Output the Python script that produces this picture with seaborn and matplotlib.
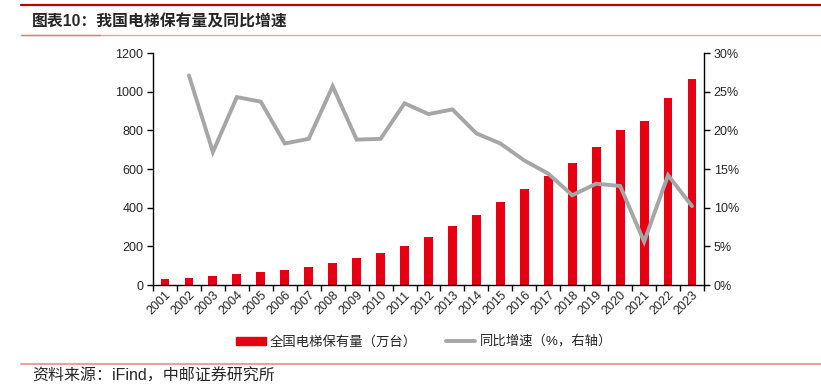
import numpy as np
import pandas as pd
import matplotlib
matplotlib.use("Agg")
import matplotlib.pyplot as plt
from matplotlib.lines import Line2D
from matplotlib.ticker import FixedLocator, PercentFormatter
import seaborn as sns

# ── data ────────────────────────────────────────────────────────────────────
years = [str(y) for y in range(2001, 2024)]
stock = [29, 36, 45, 55, 67, 78, 93, 115, 138, 166, 202, 247, 304, 364,
         428, 495, 566, 630, 715, 803, 849, 965, 1067]
growth = [np.nan, 27.1, 17.2, 24.3, 23.7, 18.3, 18.9, 25.7, 18.8, 18.9,
          23.5, 22.1, 22.7, 19.6, 18.3, 16.1, 14.4, 11.6, 13.1, 12.8,
          5.6, 14.2, 10.2]

bar_label = "全国电梯保有量（万台）"
line_label = "同比增速（%，右轴）"
title = "图表10：我国电梯保有量及同比增速"
source = "资料来源：iFind，中邮证券研究所"

RED = "#E60012"
GREY = "#A6A6A6"

sns.set_style("ticks")
plt.rcParams["font.family"] = ["Liberation Sans", "Noto Sans CJK SC", "DejaVu Sans"]
plt.rcParams["axes.unicode_minus"] = False

df = pd.DataFrame({"year": years, "stock": stock, "growth": growth})

fig = plt.figure(figsize=(8.21, 3.88), dpi=100)
ax1 = fig.add_axes([153 / 821, 1 - 285 / 388, (704 - 153) / 821, (285 - 53) / 388])

sns.barplot(data=df, x="year", y="stock", ax=ax1, color=RED, width=0.37,
            saturation=1, edgecolor="none")
ax1.set_ylim(0, 1200)
ax1.set_yticks(range(0, 1201, 200))
ax1.set_xlabel("")
ax1.set_ylabel("")

ax2 = ax1.twinx()
sns.lineplot(data=df.dropna(), x="year", y="growth", ax=ax2, color=GREY,
             linewidth=2.8, solid_joinstyle="miter")
ax2.set_ylim(0, 30)
ax2.set_yticks(range(0, 31, 5))
ax2.yaxis.set_major_formatter(PercentFormatter(decimals=0))
ax2.set_ylabel("")
ax2.set_xlabel("")
ax1.set_xlim(-0.5, len(years) - 0.5)

# spines & ticks
for ax in (ax1, ax2):
    ax.spines["top"].set_visible(False)
    for s in ("left", "right", "bottom"):
        ax.spines[s].set_linewidth(1.0)
        ax.spines[s].set_color("black")
ax1.spines["right"].set_visible(False)
ax2.spines["left"].set_visible(False)
ax2.spines["bottom"].set_visible(False)

ax1.tick_params(axis="y", labelsize=9, length=4, width=1, color="black", pad=3)
ax2.tick_params(axis="y", labelsize=9, length=4, width=1, color="black", pad=3)
ax1.tick_params(axis="x", which="major", length=0, labelsize=9, pad=3)
ax1.xaxis.set_minor_locator(FixedLocator(np.arange(-0.5, len(years), 1)))
ax1.tick_params(axis="x", which="minor", length=4, width=1, color="black")
for lab in ax1.get_xticklabels():
    lab.set_rotation(45)
    lab.set_ha("right")
    lab.set_rotation_mode("anchor")

# legend
handles = [plt.Rectangle((0, 0), 1, 1, color=RED),
           Line2D([0], [0], color=GREY, linewidth=2.8)]
fig.legend(handles, [bar_label, line_label], loc="center",
           bbox_to_anchor=(424 / 821, 1 - 342 / 388), ncol=2, frameon=False,
           fontsize=9.6, handlelength=2.2, handleheight=0.6,
           handletextpad=0.3, columnspacing=2.2, borderpad=0, borderaxespad=0)

# header / footer
fig.add_artist(Line2D([21 / 821, 1], [1 - 4.7 / 388] * 2, color="#C00000", linewidth=1.6))
fig.add_artist(Line2D([21 / 821, 1], [1 - 34.7 / 388] * 2, color="#E9A3A3", linewidth=1.0))
fig.add_artist(Line2D([21 / 821, 100 / 821], [1 - 34.7 / 388] * 2, color="#D98080", linewidth=1.0))
fig.add_artist(Line2D([21 / 821, 1], [1 - 364 / 388] * 2, color="#E88C8C", linewidth=1.2))
fig.text(32 / 821, 1 - 21.5 / 388, title, fontsize=11.4, fontweight="bold",
         va="center", ha="left")
fig.text(32 / 821, 1 - 376 / 388, source, fontsize=11.5, va="center", ha="left")

fig.savefig("out.png", dpi=100)
